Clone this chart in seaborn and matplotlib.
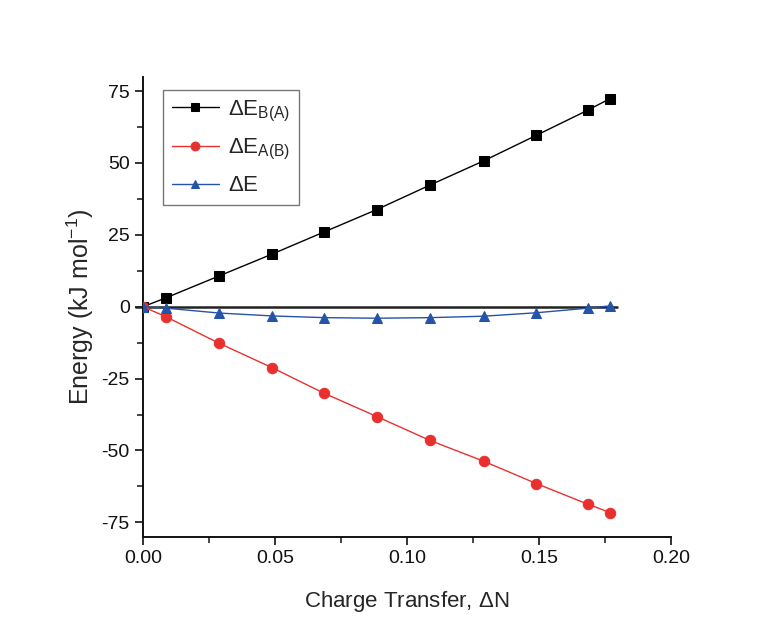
import matplotlib
matplotlib.use("Agg")
import matplotlib.pyplot as plt
import seaborn as sns
import pandas as pd
from matplotlib.ticker import MultipleLocator

charge_transfer = [0.0, 0.0087, 0.0288, 0.0489, 0.0686, 0.0886, 0.1087, 0.129, 0.149, 0.1686, 0.177]
dE_BA = [0.0, 3.1, 10.7, 18.3, 26.0, 33.8, 42.3, 50.7, 59.6, 68.4, 72.4]
dE_AB = [0.0, -3.5, -12.7, -21.2, -30.1, -38.2, -46.5, -53.7, -61.5, -68.7, -71.6]
dE = [0.0, -0.5, -2.2, -3.2, -3.8, -4.0, -3.8, -3.3, -2.1, -0.5, 0.3]

labels = [r"$\Delta$E$_{\mathrm{B(A)}}$", r"$\Delta$E$_{\mathrm{A(B)}}$", r"$\Delta$E"]
colors = ["#000000", "#e8312f", "#2453a8"]
markers = ["s", "o", "^"]

sns.set_theme(style="ticks")
plt.rcParams["font.family"] = ["Liberation Sans", "DejaVu Sans"]
plt.rcParams["mathtext.fontset"] = "custom"
plt.rcParams["mathtext.rm"] = "Liberation Sans"
plt.rcParams["mathtext.it"] = "Liberation Sans:italic"
plt.rcParams["mathtext.bf"] = "Liberation Sans:bold"

fig = plt.figure(figsize=(7.65, 6.39), dpi=100, facecolor="white")
ax = fig.add_axes([0.187, 0.160, 0.690, 0.720])

ax.hlines(0, -0.003, 0.18, color="#222222", lw=1.8, zorder=1, clip_on=False)

for ys, lab, c, m in zip([dE_BA, dE_AB, dE], labels, colors, markers):
    df = pd.DataFrame({"x": charge_transfer, "y": ys})
    sns.lineplot(data=df, x="x", y="y", ax=ax, color=c, marker=m,
                 markersize=7.5, markeredgecolor=c, lw=1.0, label=lab, zorder=3)

ax.set_xlim(0, 0.20)
ax.set_ylim(-80, 80)
ax.xaxis.set_minor_locator(MultipleLocator(0.025))
ax.yaxis.set_minor_locator(MultipleLocator(12.5))
ax.set_xticks([0, 0.05, 0.10, 0.15, 0.20])
ax.set_xticklabels(["0.00", "0.05", "0.10", "0.15", "0.20"])
ax.set_yticks([75, 50, 25, 0, -25, -50, -75])
ax.set_yticklabels(["75", "50", "25", "0", "-25", "-50", "-75"])
ax.tick_params(axis="both", which="major", direction="out", length=6, width=1.2, labelsize=14, colors="#111111")
ax.tick_params(axis="both", which="minor", direction="out", length=4, width=1.2)
for s in ["top", "right"]:
    ax.spines[s].set_visible(False)
for s in ["left", "bottom"]:
    ax.spines[s].set_linewidth(1.4)
    ax.spines[s].set_color("#111111")

ax.set_xlabel(r"Charge Transfer, $\Delta$N", fontsize=16, labelpad=16)
ax.set_ylabel(r"Energy (kJ mol$^{-1}$)", fontsize=18, labelpad=4)

leg = ax.legend(loc="upper left", bbox_to_anchor=(0.038, 0.972), fontsize=16,
                frameon=True, fancybox=False, edgecolor="#555555",
                handlelength=2.1, handletextpad=0.4, labelspacing=0.6,
                borderpad=0.4, borderaxespad=0.0, markerscale=0.85)
leg.get_frame().set_linewidth(1.0)

fig.savefig("out.png", dpi=100, facecolor="white")
